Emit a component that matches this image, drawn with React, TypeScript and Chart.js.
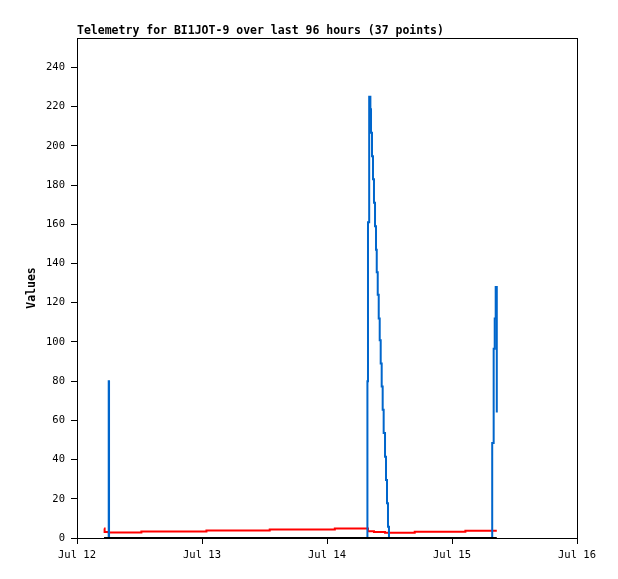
import React, { useEffect, useRef } from "react";
import { Chart, registerables } from "chart.js";

Chart.register(...registerables);

const TITLE = "Telemetry for BI1JOT-9 over last 96 hours (37 points)";
const Y_TITLE = "Values";

// hours since Jul 12 00:00
const hoursSinceJul12 = [
  5.2, 5.3, 6.09, 6.15, 12.36, 24.85, 37.0, 49.5,
  55.76, 55.87, 56.1,
  56.33, 56.45, 56.64, 56.83, 57.02, 57.22, 57.41, 57.55, 57.74, 57.93,
  58.12, 58.31, 58.5, 58.69, 58.88, 59.14, 59.33, 59.52, 59.71, 59.9,
  64.84, 74.57,
  79.72, 80.0, 80.2, 80.39, 80.6,
];

const blueValues = [
  0, 0, 80, 0, 0, 0, 0, 0,
  80, 161, 225,
  218.6, 206.7, 194.7, 183, 171, 159, 147, 135.5, 124, 112,
  100.8, 89, 77.3, 65.4, 53.5, 41.5, 29.6, 17.7, 5.8, 0,
  0, 0,
  48.5, 96.5, 112, 128, 64,
];

const redValues = [
  4.9, 3.1, 2.8, 2.8, 3.3, 3.8, 4.3, 4.9,
  4.9, 3.5, 3.5,
  3.5, 3.5, 3.5, 3.5, 3.0, 3.0, 3.0, 3.0, 3.0, 3.0,
  3.0, 3.0, 3.0, 3.0, 3.0, 2.7, 2.7, 2.7, 2.7, 2.7,
  3.2, 3.7,
  3.7, 3.7, 3.7, 3.7, 3.7,
];

const blackValues = [
  0, 0, 0, 0, 0, 0, 0, 0,
  0, 0, 0,
  0, 0, 0, 0, 0, 0, 0, 0, 0, 0,
  0, 0, 0, 0, 0, 0, 0, 0, 0, 0,
  0, 0,
  0, 0, 0, 0, 0,
];

const xTickHours = [0, 24, 48, 72, 96];
const xTickLabels = ["Jul 12", "Jul 13", "Jul 14", "Jul 15", "Jul 16"];
const yTicks = [0, 20, 40, 60, 80, 100, 120, 140, 160, 180, 200, 220, 240];
const X_MIN = 0;
const X_MAX = 96;
const Y_MIN = 0;
const Y_MAX = 255;

const MONO = "'DejaVu Sans Mono', 'Liberation Mono', monospace";

export default function App() {
  const ref = useRef<HTMLCanvasElement>(null);

  useEffect(() => {
    document.body.style.margin = "0";
    const canvas = ref.current;
    if (!canvas) return;

    const pts = (vals: number[]) => hoursSinceJul12.map((x, i) => ({ x, y: vals[i] }));

    const overlay = {
      id: "overlay",
      afterDraw(chart: any) {
        const { ctx, chartArea: a } = chart;
        ctx.save();
        ctx.strokeStyle = "#000";
        ctx.lineWidth = 1;
        ctx.beginPath();
        ctx.moveTo(a.left, Math.round(a.top) + 0.5);
        ctx.lineTo(Math.round(a.right) + 0.5, Math.round(a.top) + 0.5);
        ctx.moveTo(Math.round(a.right) + 0.5, a.top);
        ctx.lineTo(Math.round(a.right) + 0.5, a.bottom);
        ctx.stroke();
        ctx.fillStyle = "#000";
        ctx.font = "bold 11.5px " + MONO;
        ctx.textAlign = "left";
        ctx.textBaseline = "alphabetic";
        ctx.fillText(TITLE, a.left, a.top - 4.5);
        ctx.translate(32, (a.top + a.bottom) / 2);
        ctx.rotate(-Math.PI / 2);
        ctx.textAlign = "center";
        ctx.textBaseline = "middle";
        ctx.fillText(Y_TITLE, 0, 0);
        ctx.restore();
      },
    };

    const tickFont = { family: MONO, size: 10.5 };

    const chart = new Chart(canvas, {
      type: "line",
      data: {
        datasets: [
          { label: "black", data: pts(blackValues), borderColor: "#000000", borderWidth: 2, stepped: true },
          { label: "blue", data: pts(blueValues), borderColor: "#0066cc", borderWidth: 2, stepped: true },
          { label: "red", data: pts(redValues), borderColor: "#ff0000", borderWidth: 2, stepped: true },
        ],
      },
      options: {
        animation: false,
        responsive: false,
        maintainAspectRatio: false,
        devicePixelRatio: 1,
        layout: { padding: { top: 38, right: 41, left: 0, bottom: 0 } },
        elements: { point: { radius: 0, hoverRadius: 0 }, line: { tension: 0 } },
        plugins: {
          legend: { display: false },
          tooltip: { enabled: false },
          title: { display: false },
        },
        scales: {
          x: {
            type: "linear",
            min: X_MIN,
            max: X_MAX,
            afterBuildTicks: (s: any) => {
              s.ticks = xTickHours.map((v) => ({ value: v }));
            },
            afterFit: (s: any) => {
              s.height = 41;
            },
            ticks: {
              autoSkip: false,
              maxRotation: 0,
              padding: 5,
              color: "#000",
              font: tickFont,
              callback: (_v: any, i: number) => xTickLabels[i],
            },
            grid: { drawOnChartArea: false, drawTicks: true, tickLength: 6, color: "#000" },
            border: { color: "#000", width: 1 },
          },
          y: {
            type: "linear",
            min: Y_MIN,
            max: Y_MAX,
            afterBuildTicks: (s: any) => {
              s.ticks = yTicks.map((v) => ({ value: v }));
            },
            afterFit: (s: any) => {
              s.width = 77;
            },
            ticks: {
              autoSkip: false,
              padding: 6,
              color: "#000",
              font: tickFont,
              callback: (v: any) => String(v),
            },
            grid: { drawOnChartArea: false, drawTicks: true, tickLength: 6, color: "#000" },
            border: { color: "#000", width: 1 },
          },
        },
      },
      plugins: [overlay],
    } as any);

    return () => chart.destroy();
  }, []);

  return <canvas ref={ref} width={618} height={579} style={{ display: "block" }} />;
}
